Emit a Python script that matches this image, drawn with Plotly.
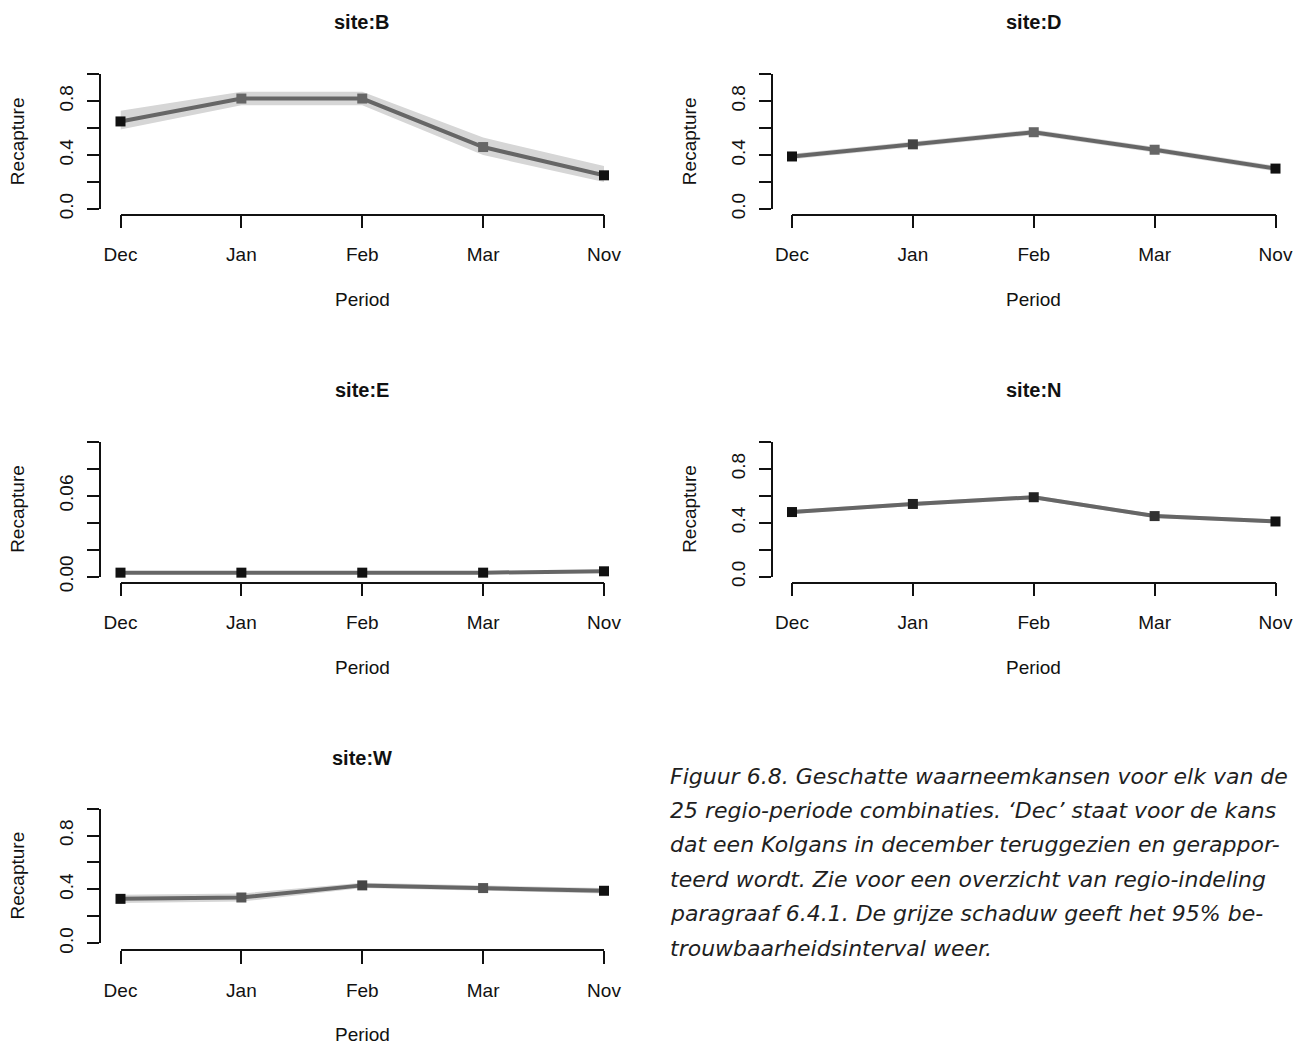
import plotly.graph_objects as go

OFF = 8                       # page body margin of the html page
W, H = 1304 - OFF, 1046 - OFF

periods = ["Dec", "Jan", "Feb", "Mar", "Nov"]
sites = ["B", "D", "E", "N", "W"]

b_est = [0.65, 0.82, 0.82, 0.46, 0.25]
b_low = [0.59, 0.77, 0.77, 0.40, 0.20]
b_up = [0.73, 0.87, 0.87, 0.53, 0.32]

d_est = [0.39, 0.48, 0.57, 0.44, 0.30]
d_low = [0.37, 0.46, 0.55, 0.42, 0.28]
d_up = [0.41, 0.50, 0.59, 0.46, 0.32]

e_est = [0.003, 0.003, 0.003, 0.003, 0.004]
e_low = [0.0025, 0.0025, 0.0025, 0.0025, 0.0032]
e_up = [0.0035, 0.0035, 0.0035, 0.0035, 0.0048]

n_est = [0.48, 0.54, 0.59, 0.45, 0.41]
n_low = [0.465, 0.525, 0.575, 0.435, 0.395]
n_up = [0.495, 0.555, 0.605, 0.465, 0.425]

w_est = [0.33, 0.34, 0.43, 0.41, 0.39]
w_low = [0.30, 0.31, 0.41, 0.39, 0.37]
w_up = [0.36, 0.37, 0.45, 0.43, 0.41]

caption_lines = [
    "Figuur 6.8. Geschatte waarneemkansen voor elk van de",
    "25 regio-periode combinaties. \u2018Dec\u2019 staat voor de kans",
    "dat een Kolgans in december teruggezien en gerappor-",
    "teerd wordt. Zie voor een overzicht van regio-indeling",
    "paragraaf 6.4.1. De grijze schaduw geeft het 95% be-",
    "trouwbaarheidsinterval weer.",
]

panels = [
    dict(site="B", est=b_est, low=b_low, up=b_up, col=0, row=0,
         yr=[0, 1], tv=[0, 0.2, 0.4, 0.6, 0.8, 1.0], tt=["0.0", "", "0.4", "", "0.8", ""],
         mcol=["#111", "#666", "#666", "#666", "#111"]),
    dict(site="D", est=d_est, low=d_low, up=d_up, col=1, row=0,
         yr=[0, 1], tv=[0, 0.2, 0.4, 0.6, 0.8, 1.0], tt=["0.0", "", "0.4", "", "0.8", ""],
         mcol=["#111", "#444", "#666", "#666", "#111"]),
    dict(site="E", est=e_est, low=e_low, up=e_up, col=0, row=1,
         yr=[0, 0.1], tv=[0, 0.02, 0.04, 0.06, 0.08, 0.1], tt=["0.00", "", "", "0.06", "", ""],
         mcol=["#111", "#111", "#111", "#111", "#111"]),
    dict(site="N", est=n_est, low=n_low, up=n_up, col=1, row=1,
         yr=[0, 1], tv=[0, 0.2, 0.4, 0.6, 0.8, 1.0], tt=["0.0", "", "0.4", "", "0.8", ""],
         mcol=["#111", "#222", "#222", "#333", "#111"]),
    dict(site="W", est=w_est, low=w_low, up=w_up, col=0, row=2,
         yr=[0, 1], tv=[0, 0.2, 0.4, 0.6, 0.8, 1.0], tt=["0.0", "", "0.4", "", "0.8", ""],
         mcol=["#111", "#555", "#444", "#555", "#111"]),
]

# pixel geometry in window pixels (layout only)
col_x0 = [120.5, 792.0]      # Dec tick
col_span = 483.5             # Dec->Nov
col_yaxis = [99.5, 771.5]    # y axis line x
row_y0 = [209.0, 576.7, 943.3]   # value 0
row_h = 134.7
row_xaxis = [214.5, 582.5, 950.0]
row_title = [22, 390, 758]
row_xlab = [299, 667, 1034]

def px(x):
    return (x - OFF) / W

def py(y):
    return 1 - (y - OFF) / H

fig = go.Figure()
annotations = []
layout = {}
xs = list(range(len(periods)))
axis_font = dict(family="Liberation Sans, Arial, sans-serif", size=19, color="#111")

for i, p in enumerate(panels):
    k = "" if i == 0 else str(i + 1)
    xa, ya = "x" + k, "y" + k
    c, r = p["col"], p["row"]
    fig.add_trace(go.Scatter(
        x=xs + xs[::-1], y=p["up"] + p["low"][::-1], fill="toself",
        fillcolor="#d6d6d6", line=dict(width=0), mode="lines",
        xaxis=xa, yaxis=ya, hoverinfo="skip", showlegend=False))
    fig.add_trace(go.Scatter(
        x=xs, y=p["est"], mode="lines+markers",
        line=dict(color="#666666", width=4),
        marker=dict(symbol="square", size=10, color=p["mcol"], line=dict(width=0)),
        cliponaxis=False, xaxis=xa, yaxis=ya, showlegend=False))
    xd = [px(col_x0[c]), px(col_x0[c] + col_span)]
    yd = [py(row_y0[r]), py(row_y0[r] - row_h)]
    layout["xaxis" + k] = dict(
        domain=xd, range=[0, 4], anchor="free", position=py(row_xaxis[r]),
        tickvals=xs, ticktext=periods, ticks="outside", ticklen=13, tickwidth=1.5,
        tickcolor="#111", showline=True, linecolor="#111", linewidth=1.5,
        showgrid=False, zeroline=False, tickfont=axis_font, ticklabelstandoff=10,
        fixedrange=True)
    layout["yaxis" + k] = dict(
        domain=yd, range=p["yr"], anchor="free", position=px(col_yaxis[c]),
        tickvals=p["tv"], ticktext=p["tt"], ticks="outside", ticklen=12, tickwidth=1.5,
        tickcolor="#111", showline=True, linecolor="#111", linewidth=1.5,
        showgrid=False, zeroline=False, tickfont=axis_font, tickangle=-90,
        ticklabelstandoff=6, fixedrange=True)
    cx = col_x0[c] + col_span / 2
    annotations.append(dict(
        x=px(cx), y=py(row_title[r]), xref="paper", yref="paper",
        text="<b>site:%s</b>" % p["site"], showarrow=False,
        xanchor="center", yanchor="middle",
        font=dict(family="Liberation Sans, Arial, sans-serif", size=20, color="#111")))
    annotations.append(dict(
        x=px(cx), y=py(row_xlab[r]), xref="paper", yref="paper",
        text="Period", showarrow=False, xanchor="center", yanchor="middle",
        font=axis_font))
    annotations.append(dict(
        x=px(col_yaxis[c] - 82), y=py(row_y0[r] - row_h / 2), xref="paper", yref="paper",
        text="Recapture", showarrow=False, textangle=-90,
        xanchor="center", yanchor="middle", font=axis_font))

for j, line in enumerate(caption_lines):
    annotations.append(dict(
        x=px(668), y=py(776 + 34.4 * j), xref="paper", yref="paper",
        text=line, showarrow=False, xanchor="left", yanchor="middle",
        font=dict(family="DejaVu Sans, sans-serif", size=22, color="#1f1f1f", style="italic")))

fig.update_layout(
    width=W, height=H, margin=dict(l=0, r=0, t=0, b=0, pad=0, autoexpand=False),
    paper_bgcolor="white", plot_bgcolor="white",
    annotations=annotations, showlegend=False, **layout)

fig.write_html("out.html")
